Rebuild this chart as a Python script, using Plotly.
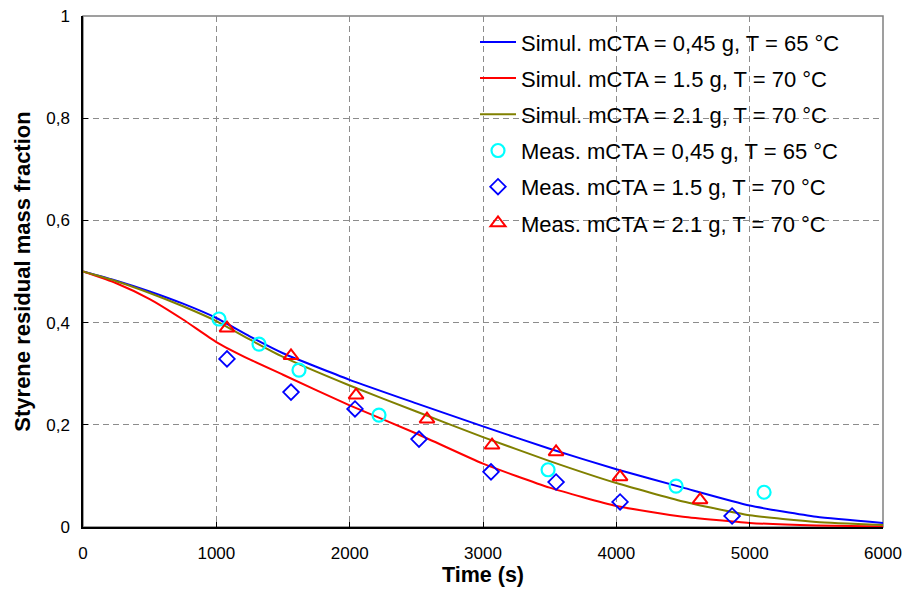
import plotly.graph_objects as go

# Simulated curves
t_sim = [0, 250, 500, 750, 1000, 1250, 1500, 2000, 2500, 3000, 3500, 4000, 4500, 5000, 5500, 6000]
sim_045 = [0.5, 0.482, 0.461, 0.437, 0.409, 0.373, 0.340, 0.288, 0.242, 0.197, 0.153, 0.113, 0.077, 0.042, 0.020, 0.008]
sim_15 = [0.5, 0.477, 0.446, 0.406, 0.362, 0.328, 0.298, 0.238, 0.183, 0.124, 0.077, 0.041, 0.020, 0.008, 0.003, 0.001]
sim_21 = [0.5, 0.481, 0.458, 0.432, 0.403, 0.367, 0.333, 0.277, 0.226, 0.176, 0.129, 0.086, 0.050, 0.023, 0.010, 0.004]

# Measurements
t_m045 = [1020, 1320, 1620, 2220, 3488, 4448, 5108]
m045 = [0.407, 0.358, 0.307, 0.219, 0.112, 0.080, 0.068]
t_m15 = [1080, 1560, 2040, 2520, 3060, 3548, 4028, 4868]
m15 = [0.329, 0.264, 0.231, 0.172, 0.108, 0.088, 0.049, 0.0215]
t_m21 = [1080, 1560, 2048, 2580, 3068, 3548, 4028, 4628]
m21 = [0.389, 0.335, 0.258, 0.211, 0.160, 0.147, 0.098, 0.053]

y_tickvals = [0, 0.2, 0.4, 0.6, 0.8, 1]
y_ticktext = ["0", "0,2", "0,4", "0,6", "0,8", "1"]
x_tickvals = [0, 1000, 2000, 3000, 4000, 5000, 6000]

FONT = "Arial, 'Liberation Sans', sans-serif"

fig = go.Figure()
fig.add_trace(go.Scatter(x=t_sim, y=sim_045, mode="lines", line=dict(color="#0000FF", width=2, shape="spline", smoothing=0.5),
                         name="Simul. mCTA = 0,45 g, T = 65 °C", legendgroup="a"))
fig.add_trace(go.Scatter(x=t_sim, y=sim_15, mode="lines", line=dict(color="#FF0000", width=2, shape="spline", smoothing=0.5),
                         name="Simul. mCTA = 1.5 g, T = 70 °C", legendgroup="b"))
fig.add_trace(go.Scatter(x=t_sim, y=sim_21, mode="lines", line=dict(color="#808000", width=2, shape="spline", smoothing=0.5),
                         name="Simul. mCTA = 2.1 g, T = 70 °C", legendgroup="c"))
fig.add_trace(go.Scatter(x=t_m045, y=m045, mode="markers",
                         marker=dict(symbol="circle-open", size=13, color="#00FFFF", line=dict(width=2.2, color="#00FFFF")),
                         name="Meas. mCTA = 0,45 g, T = 65 °C", legendgroup="d"))
fig.add_trace(go.Scatter(x=t_m15, y=m15, mode="markers",
                         marker=dict(symbol="diamond-open", size=12, color="#0000FF", line=dict(width=1.8, color="#0000FF")),
                         name="Meas. mCTA = 1.5 g, T = 70 °C", legendgroup="e"))
fig.add_trace(go.Scatter(x=t_m21, y=m21, mode="markers",
                         marker=dict(symbol="triangle-up-open", size=13, color="#FF0000", line=dict(width=2, color="#FF0000")),
                         name="Meas. mCTA = 2.1 g, T = 70 °C", legendgroup="f"))

fig.add_shape(type="rect", xref="paper", yref="paper", x0=0, y0=0, x1=1, y1=1,
              line=dict(color="#808080", width=1.5), layer="below")

fig.update_layout(
    width=905, height=592,
    margin=dict(l=83, r=22, t=16, b=65, autoexpand=False),
    paper_bgcolor="white", plot_bgcolor="white",
    font=dict(family=FONT, color="black", size=17),
    showlegend=True,
    legend=dict(x=0.49, y=0.99, xanchor="left", yanchor="top",
                font=dict(size=22, family=FONT), bgcolor="rgba(255,255,255,0)",
                borderwidth=0, itemwidth=36, tracegroupgap=4.6),
    xaxis=dict(range=[0, 6000], tickvals=x_tickvals, ticks="inside", ticklen=5, tickcolor="black",
               showline=True, linecolor="black", linewidth=1.5, zeroline=False, automargin=False,
               showgrid=True, gridcolor="#8c8c8c", griddash="6px,4px", gridwidth=1,
               ticklabelstandoff=10,
               tickfont=dict(size=17), title=dict(text="<b>Time (s)</b>", font=dict(size=21.5), standoff=4)),
    yaxis=dict(range=[0, 1], tickvals=y_tickvals, ticktext=y_ticktext, ticks="inside", ticklen=5, tickcolor="black",
               showline=True, linecolor="black", linewidth=1.5, zeroline=False, automargin=False,
               showgrid=True, gridcolor="#8c8c8c", griddash="6px,4px", gridwidth=1,
               ticklabelstandoff=8,
               tickfont=dict(size=17), title=dict(text="<b>Styrene residual mass fraction</b>", font=dict(size=22), standoff=10)),
)

fig.write_html("out.html")
